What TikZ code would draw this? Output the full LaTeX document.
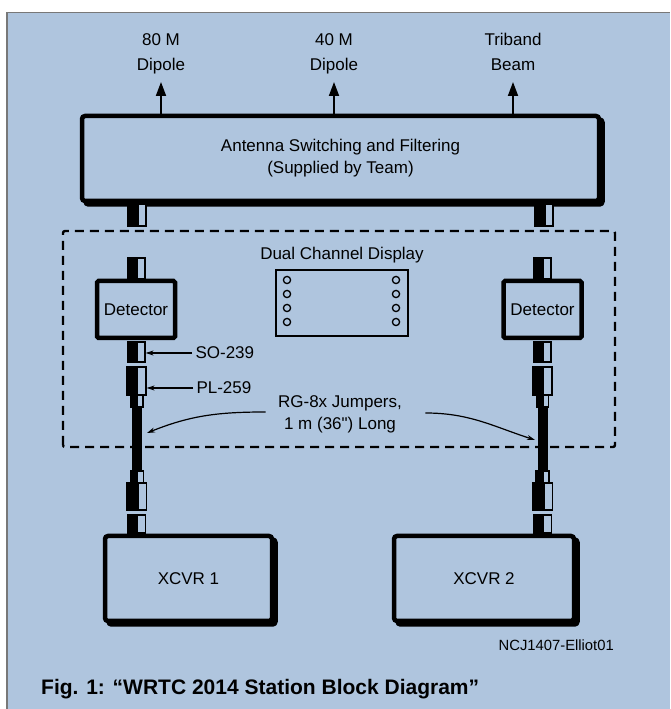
\documentclass[tikz,border=0pt]{standalone}
\usepackage{fontspec}
\setmainfont{Liberation Sans}
\usetikzlibrary{arrows.meta,calc,shadows}
\definecolor{PanelClr}{rgb}{0.686,0.773,0.871}
\definecolor{FrameClr}{rgb}{0.47,0.47,0.47}

\begin{document}
\begin{tikzpicture}[x=1pt,y=1pt,
  every node/.style={font=\fontsize{17}{22}\selectfont},
  tag/.style={align=center,font=\fontsize{17}{25}\selectfont,inner sep=2pt,anchor=south},
  unit/.style={draw,line width=4.5pt,rounded corners=3pt,fill=PanelClr,align=center,
    general shadow={shadow xshift=3.5pt,shadow yshift=-3.5pt,draw=black,fill=black,line width=4.5pt}},
  det/.style={draw,line width=4.5pt,rounded corners=1.5pt,fill=PanelClr,
    minimum width=78pt,minimum height=57pt},
  jack/.style={draw,line width=1.2pt,fill=PanelClr,inner sep=0pt,
    path picture={\fill[black] (path picture bounding box.south west) rectangle
      ($(path picture bounding box.north west)!0.6!(path picture bounding box.north east)$);}},
  antarrow/.style={line width=1.8pt,-{Triangle[length=14pt,width=10pt]},shorten >=2pt},
  callout/.style={line width=1.2pt,-{Stealth[length=8pt,width=5pt]}},
  coax/.style={line width=10pt},
  dashbox/.style={line width=2.4pt,dash pattern=on 9pt off 6pt,rounded corners=2pt}
]
\useasboundingbox (0,0) rectangle (670,709);
\fill[white] (0,0) rectangle (670,709);
\fill[PanelClr] (6,0) rectangle (670,697);
\draw[FrameClr,line width=1.5pt] (6.75,0) -- (6.75,696.25) -- (670,696.25);

% antennas and switch box
\node[tag] (l80) at (161,629) {\strut 80 M\\\strut Dipole};
\node[tag] (l40) at (334,629) {\strut 40 M\\\strut Dipole};
\node[tag] (ltri) at (513,629) {\strut Triband\\\strut Beam};

\node[unit,minimum width=517pt,minimum height=85pt] (sw) at (340.5,550.5)
  {Antenna Switching and Filtering\\(Supplied by Team)};
\foreach \a in {l80,l40,ltri}
  \draw[antarrow] (sw.north -| \a) -- (\a.south);

\node[jack,minimum width=18pt,minimum height=22pt] (stubL) at (137,494) {};
\node[jack,minimum width=18pt,minimum height=22pt] (stubR) at (544,494) {};

% station table
\draw[dashbox] (63,262) rectangle (615,478);

\node (dcd) at (342,454) {Dual Channel Display};
\node[draw,line width=2pt,minimum width=132pt,minimum height=66pt,inner sep=0pt] (disp) at (342,406) {};
\foreach \y in {429,415,401,387} {
  \draw[line width=1.3pt] (287,\y) circle (3.6);
  \draw[line width=1.3pt] (396,\y) circle (3.6);
}

\node[det] (detL) at (136,399.5) {Detector};
\node[det] (detR) at (542.5,399.5) {Detector};

\node[jack,minimum width=17pt,minimum height=21pt] (topL) at (136.5,440.5) {};
\node[jack,minimum width=17pt,minimum height=21pt] (topR) at (542.5,440.5) {};

\node[jack,minimum width=17pt,minimum height=20pt] (soL) at (136.5,357) {};
\node[jack,minimum width=17pt,minimum height=20pt] (soR) at (542.5,357) {};
\node[jack,minimum width=19pt,minimum height=28pt] (plL) at (136.5,328) {};
\node[jack,minimum width=19pt,minimum height=28pt] (plR) at (542.5,328) {};
\node[jack,minimum width=12pt,minimum height=12pt] (plnL) at (137,308) {};
\node[jack,minimum width=12pt,minimum height=12pt] (plnR) at (542.5,308) {};

% jumpers down to the radios
\node[jack,minimum width=13pt,minimum height=12pt] (pl2nL) at (137,232) {};
\node[jack,minimum width=13pt,minimum height=12pt] (pl2nR) at (542.5,232) {};
\node[jack,minimum width=20pt,minimum height=27pt] (pl2L) at (136.5,212.5) {};
\node[jack,minimum width=20pt,minimum height=27pt] (pl2R) at (542.5,212.5) {};
\node[jack,minimum width=18pt,minimum height=18pt] (xjL) at (136.5,185) {};
\node[jack,minimum width=18pt,minimum height=18pt] (xjR) at (542.5,185) {};

\draw[coax] (plnL.south) -- (pl2nL.north);
\draw[coax] (plnR.south) -- (pl2nR.north);

\node[unit,minimum width=167pt,minimum height=85pt] (xcvrL) at (188.5,130.5) {XCVR 1};
\node[unit,minimum width=180pt,minimum height=85pt] (xcvrR) at (484,130.5) {XCVR 2};

% callouts
\node[anchor=west] (so) at (192,356) {SO-239};
\node[anchor=west] (pl) at (193,321) {PL-259};
\draw[callout] (so.west) -- (so.west -| soL.east);
\draw[callout] (pl.west) -- (pl.west -| plL.east);

\node[align=center] (rg) at (340,295) {RG-8x Jumpers,\\1 m (36\textquotedbl) Long};
\coordinate (tipL) at (147,276);
\coordinate (tipR) at (535,269);
\draw[callout] ([xshift=-9pt,yshift=2pt]rg.west) to[out=180,in=22] (tipL);
\draw[callout] ([xshift=20pt,yshift=1pt]rg.east) to[out=0,in=162] (tipR);

\node[anchor=base east,inner sep=0pt,font=\fontsize{14.8}{16}\selectfont] (ref) at (614,58) {NCJ1407-Elliot01};
\node[anchor=base west,inner sep=0pt,font=\bfseries\fontsize{21}{24}\selectfont] (cap) at (41,14)
  {Fig. 1: “WRTC 2014 Station Block Diagram”};
\end{tikzpicture}
\end{document}
